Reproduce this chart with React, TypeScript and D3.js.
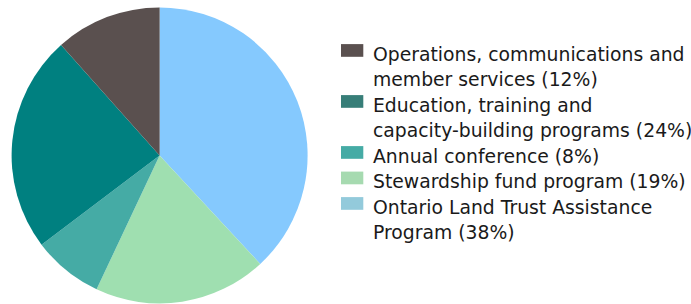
import React from 'react';
import * as d3 from 'd3';

const labels = [
  'Operations, communications and member services (12%)',
  'Education, training and capacity-building programs (24%)',
  'Annual conference (8%)',
  'Stewardship fund program (19%)',
  'Ontario Land Trust Assistance Program (38%)',
];
const legendLines = [
  ['Operations, communications and', 'member services (12%)'],
  ['Education, training and', 'capacity-building programs (24%)'],
  ['Annual conference (8%)'],
  ['Stewardship fund program (19%)'],
  ['Ontario Land Trust Assistance', 'Program (38%)'],
];
// shares
const values = [11.6, 23.7, 7.7, 18.9, 38.1];
const sliceColors = ['#5a504f', '#008080', '#45aba5', '#9fdfb0', '#85c9fe'];
const swatchColors = ['#5a504f', '#377e78', '#45aba5', '#a6dab0', '#93cadb'];

export default function App() {
  const width = 691;
  const height = 304;
  const cx = 159.6;
  const cy = 155.4;
  const r = 148;

  // legend order runs counter-clockwise from 12 o'clock, so draw pie in reverse
  const idx = d3.range(values.length).reverse();
  const pie = d3.pie<number>().sort(null).value(i => values[i]);
  const arcs = pie(idx);
  const arc = d3.arc<d3.PieArcDatum<number>>().innerRadius(0).outerRadius(r);

  let line = 0;
  const lineH = 25.5;
  const base = 60.6;

  return (
    <svg width={width} height={height} style={{ position: 'absolute', left: 0, top: 0 }}
      fontFamily="'DejaVu Sans', sans-serif">
      <g transform={`translate(${cx},${cy})`}>
        {arcs.map(a => (
          <path key={a.data} d={arc(a) || ''} fill={sliceColors[a.data]} />
        ))}
      </g>
      <g>
        {legendLines.map((ls, i) => {
          const y0 = base + line * lineH;
          line += ls.length;
          return (
            <g key={labels[i]}>
              <rect x={341} y={y0 - 16.5} width={22.3} height={12.7} fill={swatchColors[i]} />
              {ls.map((t, j) => (
                <text key={j} x={373} y={y0 + j * lineH} fontSize={18.8} fill="#1a1a1a">{t}</text>
              ))}
            </g>
          );
        })}
      </g>
    </svg>
  );
}
